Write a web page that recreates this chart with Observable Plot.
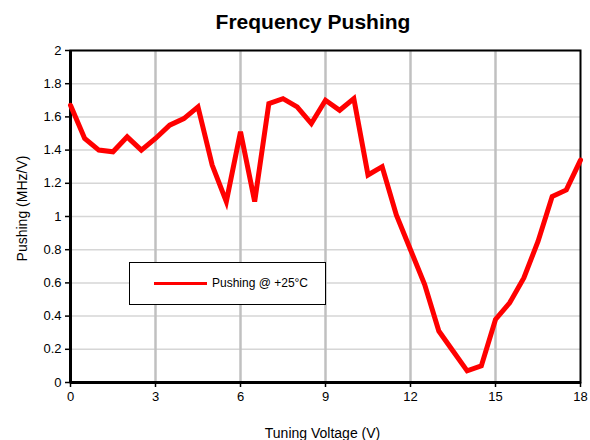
<!DOCTYPE html>
<html>
<head>
<meta charset="utf-8">
<script src="https://cdn.jsdelivr.net/npm/d3@7"></script>
<script src="https://cdn.jsdelivr.net/npm/@observablehq/plot@0.6"></script>
<style>
  html, body { margin: 0; padding: 0; background: white; }
  #wrap { position: relative; width: 590px; height: 440px; font-family: "Liberation Sans", Arial, sans-serif; color: #000; }
  #title { position: absolute; top: 11px; left: 163px; width: 300px; text-align: center; font-size: 21px; line-height: 21px; font-weight: bold; }
  #chart { position: absolute; top: 40px; left: 0; }
  #legend { position: absolute; left: 129px; top: 262px; width: 195px; height: 41px; border: 1px solid #000; background: white; }
  #legend .sw { position: absolute; left: 24px; top: 19px; width: 53px; height: 3px; background: #ff0000; }
  #legend .lb { position: absolute; left: 82px; top: 13px; font-size: 12px; line-height: 14px; white-space: nowrap; }
</style>
</head>
<body>
<div id="wrap">
  <div id="title">Frequency Pushing</div>
  <div id="chart"></div>
  <div id="legend"><div class="sw"></div><div class="lb"></div></div>
</div>
<script>
const volts = [0,0.5,1,1.5,2,2.5,3,3.5,4,4.5,5,5.5,6,6.5,7,7.5,8,8.5,9,9.5,10,10.5,11,11.5,12,12.5,13,13.5,14,14.5,15,15.5,16,16.5,17,17.5,18];
const pushing = [1.67,1.47,1.40,1.39,1.48,1.40,1.47,1.55,1.59,1.66,1.31,1.09,1.51,1.09,1.68,1.71,1.66,1.56,1.70,1.64,1.71,1.25,1.30,1.01,0.80,0.59,0.31,0.19,0.07,0.10,0.38,0.48,0.63,0.85,1.12,1.16,1.34];
const xTicks = [0,3,6,9,12,15,18];
const yTicks = [0,0.2,0.4,0.6,0.8,1,1.2,1.4,1.6,1.8,2];
const yTickLabels = ["0","0.2","0.4","0.6","0.8","1","1.2","1.4","1.6","1.8","2"];
const seriesName = "Pushing @ +25°C";
const xLabel = "Tuning Voltage (V)";
const yLabel = "Pushing (MHz/V)";

const data = volts.map((v, i) => ({v, p: pushing[i]}));

const chart = Plot.plot({
  width: 590,
  height: 400,
  marginTop: 10,
  marginRight: 10,
  marginBottom: 58,
  marginLeft: 70,
  style: {fontFamily: "'Liberation Sans', Arial, sans-serif", fontSize: "13px", color: "#000", background: "white"},
  x: {domain: [0, 18]},
  y: {domain: [0, 2]},
  marks: [
    Plot.gridY(yTicks, {stroke: "#d6d6d6", strokeOpacity: 1, strokeWidth: 1.5}),
    Plot.gridX(xTicks.slice(1, -1), {stroke: "#c0c0c0", strokeOpacity: 1, strokeWidth: 2.5}),
    Plot.frame({stroke: "#000", strokeWidth: 2}),
    Plot.axisX(xTicks, {tickSize: 5, tickPadding: 4, fontSize: 13, label: null, stroke: "#000", strokeWidth: 1.5}),
    Plot.axisY(yTicks, {tickSize: 5, tickPadding: 4, fontSize: 13, label: null, stroke: "#000", strokeWidth: 1.5,
      tickFormat: (d) => yTickLabels[yTicks.indexOf(d)]}),
    Plot.ruleX([0], {stroke: "#000", strokeWidth: 3}),
    Plot.ruleY([0], {stroke: "#000", strokeWidth: 3}),
    Plot.line(data, {x: "v", y: "p", stroke: "#ff0000", strokeWidth: 5, strokeLinejoin: "miter", strokeMiterlimit: 4}),
    Plot.text([xLabel], {frameAnchor: "bottom", textAnchor: "middle", lineAnchor: "middle", dy: 51, dx: -3, fontSize: 14}),
    Plot.text([yLabel], {frameAnchor: "left", textAnchor: "middle", lineAnchor: "middle", rotate: -90, dx: -48, dy: -8, fontSize: 14})
  ]
});
document.getElementById("chart").appendChild(chart);
document.querySelector("#legend .lb").textContent = seriesName;
</script>
</body>
</html>
